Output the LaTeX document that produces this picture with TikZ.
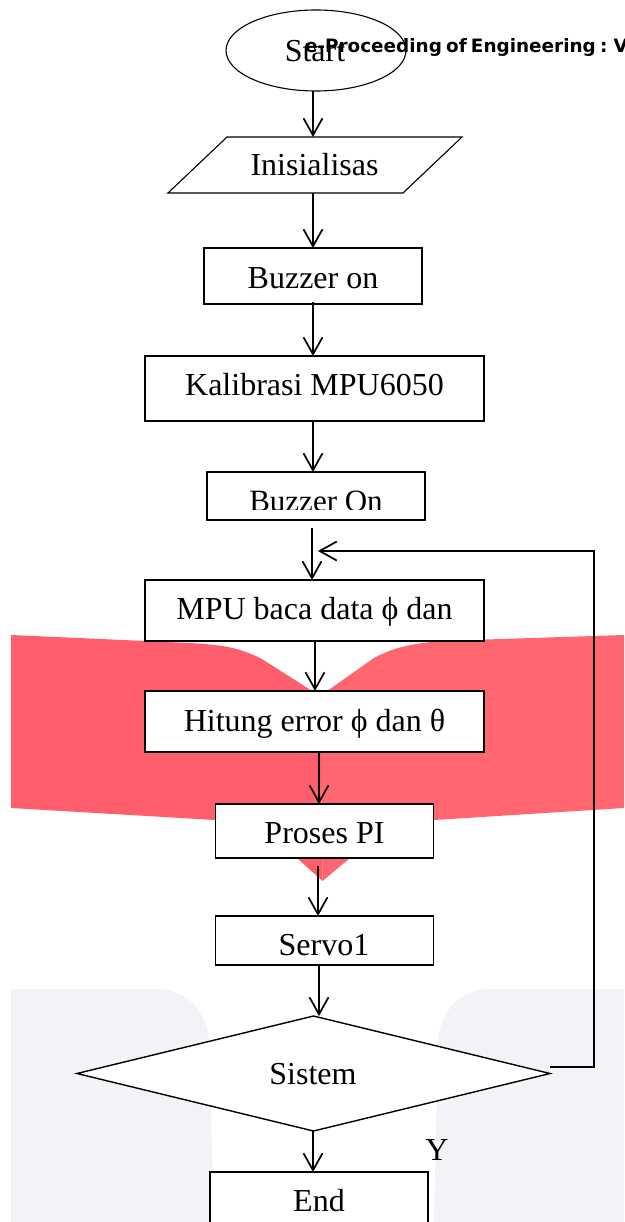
\documentclass[tikz,border=0pt]{standalone}
\usepackage{fontspec}
\setmainfont{Liberation Serif}
\newfontfamily\titlefont{DejaVu Sans}
\usetikzlibrary{arrows.meta,shapes.geometric}
\definecolor{pinkL}{HTML}{FF5F6D}
\definecolor{pinkR}{HTML}{FF6670}
\definecolor{wm}{HTML}{F2F2F7}
\tikzset{
  x=1pt,y=-1pt,
  every node/.style={inner sep=0pt,outer sep=0pt,font=\fontsize{32}{36}\selectfont},
  boxnode/.style={draw=black,line width=1.1pt,fill=white,rectangle,minimum width=#1},
  boxnode/.default=218,
  lbl/.style={anchor=base},
  arr/.style={line width=1.7pt,-{Straight Barb[length=17pt,width=19pt,line width=1.7pt]}},
  outline/.style={draw=black,line width=1.1pt}
}
\begin{document}
\begin{tikzpicture}
\useasboundingbox (0,0) rectangle (624,1222);
\clip (0,0) rectangle (624,1222);
\fill[white] (0,0) rectangle (624,1222);
% watermark
\fill[wm] (11,989) -- (155,989) .. controls (190,989) and (209,1015) .. (209,1045) -- (214,1222) -- (11,1222) -- cycle;
\fill[wm] (624,989) -- (490,989) .. controls (458,989) and (438,1015) .. (438,1045) -- (434,1222) -- (624,1222) -- cycle;
\fill[pinkL] (11,635) -- (190,643) .. controls (225,645) and (240,648) .. (262,659) -- (320,696) -- (322.5,881) -- (297,858) -- (215,820) -- (11,808) -- cycle;
\fill[pinkR] (624,635) -- (440,641) .. controls (410,644) and (392,648) .. (374,658) -- (320,696) -- (322.5,881) -- (350,858) -- (434,820) -- (624,808) -- cycle;
% shapes
\node[outline,ellipse,minimum width=180,minimum height=81] (start) at (316,50.5) {};
\node[minimum width=294,minimum height=56] (init) at (315,165) {};
\draw[outline,fill=white] ([xshift=59pt]init.north west) -- (init.north east) -- ([xshift=-59pt]init.south east) -- (init.south west) -- cycle;
\node[boxnode,minimum height=56] (buzz1) at (313,276) {};
\node[boxnode=339,minimum height=65] (kal) at (314.5,388.5) {};
\node[boxnode,minimum height=48] (buzz2) at (316,496) {};
\node[boxnode=339,minimum height=61] (mpu) at (314.5,610.5) {};
\node[boxnode=339,minimum height=61] (hit) at (314.5,721.5) {};
\node[boxnode,minimum height=54] (pi) at (324.5,831) {};
\node[boxnode,minimum height=49] (servo) at (324.5,940.5) {};
\node[draw=black,line width=1.4pt,fill=white,diamond,aspect=4.07,minimum width=473,minimum height=115] (sis) at (313.5,1073.5) {};
\node[boxnode,minimum height=70] (endn) at (319,1207) {};
% texts
\node[lbl] (t0) at (315,61.5) {Start};
\node[lbl] (t5) at (314.5,176) {Inisialisas};
\node[lbl] (t1) at (313,288) {Buzzer on};
\node[lbl] (t6) at (314.5,395) {Kalibrasi MPU6050};
\begin{scope}
\clip (207,472) rectangle (425,509.5);
\node[lbl,font=\fontsize{31}{36}\selectfont] (t3) at (316,511) {Buzzer On};
\end{scope}
\node[lbl] (t7) at (314.5,619) {MPU baca data ϕ dan};
\node[lbl] (t8) at (314.5,731) {Hitung error ϕ dan θ};
\node[lbl] (t9) at (324.5,843) {Proses PI};
\node[lbl] (t10) at (324,955) {Servo1};
\node[lbl] (t11) at (313,1084) {Sistem};
\node[lbl] (t2) at (319,1211) {End};
\node[lbl] (y) at (437,1160) {Y};
\node[anchor=base west,font=\titlefont\bfseries\fontsize{18.4}{22}\selectfont] (title) at (305,53) {\spaceskip=4.2pt e-Proceeding of Engineering : V};
% connectors
\coordinate (c1) at (312,528);
\coordinate (c2) at (318,551);
\coordinate (c3) at (594,551);
\coordinate (c4) at (594,1067);
\coordinate (c5) at (550,1067);
\coordinate (c6) at (318,866);
\draw[arr] ([xshift=-3pt]start.south) -- ([xshift=-2pt]init.north);
\draw[arr] ([xshift=-2pt]init.south) -- (buzz1.north);
\draw[arr] ([yshift=2pt]buzz1.south) -- ([xshift=-1.5pt]kal.north);
\draw[arr] ([xshift=-1.5pt]kal.south) -- ([xshift=-3pt]buzz2.north);
\draw[arr] (c1) -- (c1 |- mpu.north);
\draw[arr] (c5) -- (c4) -- (c3) -- (c2);
\draw[arr] ([xshift=.5pt]mpu.south) -- ([xshift=.5pt]hit.north);
\draw[arr] ([xshift=4.5pt]hit.south) -- ([xshift=-5.5pt]pi.north);
\draw[arr] (c6) -- (c6 |- servo.north);
\draw[arr] ([xshift=-5.5pt]servo.south) -- ([xshift=5.5pt]sis.north);
\draw[arr] ([xshift=-.5pt]sis.south) -- ([xshift=-6pt]endn.north);
\end{tikzpicture}
\end{document}
